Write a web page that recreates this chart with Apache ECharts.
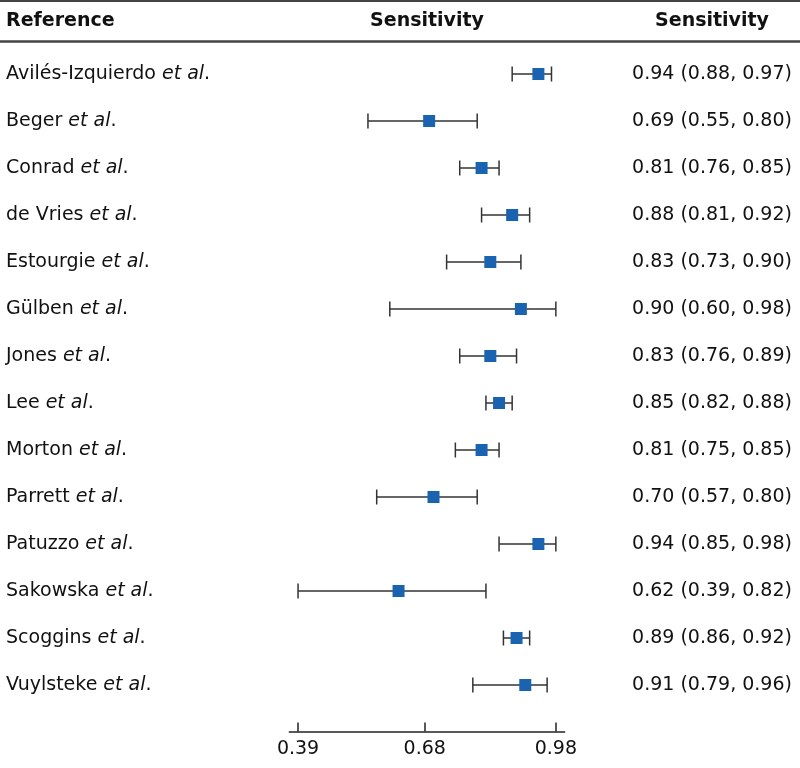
<!DOCTYPE html>
<html>
<head>
<meta charset="utf-8">
<script src="https://cdn.jsdelivr.net/npm/echarts@6/dist/echarts.min.js"></script>
<style>html,body{margin:0;padding:0;background:#fff}#c{width:800px;height:768px}</style>
</head>
<body>
<div id="c"></div>
<script>
const authors = ['Avilés-Izquierdo','Beger','Conrad','de Vries','Estourgie','Gülben','Jones','Lee','Morton','Parrett','Patuzzo','Sakowska','Scoggins','Vuylsteke'];
const sensitivity = [0.94,0.69,0.81,0.88,0.83,0.90,0.83,0.85,0.81,0.70,0.94,0.62,0.89,0.91];
const ciLower = [0.88,0.55,0.76,0.81,0.73,0.60,0.76,0.82,0.75,0.57,0.85,0.39,0.86,0.79];
const ciUpper = [0.97,0.80,0.85,0.92,0.90,0.98,0.89,0.88,0.85,0.80,0.98,0.82,0.92,0.96];
const xTicks = [0.39, 0.68, 0.98];
const headers = ['Reference', 'Sensitivity', 'Sensitivity'];

const FONT = 'DejaVu Sans';
const chart = echarts.init(document.getElementById('c'), null, {renderer: 'canvas'});
const idx = authors.map((_, i) => i);
const rightText = authors.map((_, i) => sensitivity[i].toFixed(2) + ' (' + ciLower[i].toFixed(2) + ', ' + ciUpper[i].toFixed(2) + ')');

const gridLeft = 289.3, gridRight = 235.4;
chart.setOption({
  animation: false,
  backgroundColor: '#fff',
  grid: {left: gridLeft, right: gridRight, top: 50.5, bottom: 59.5, containLabel: false},
  xAxis: {
    type: 'value', min: 0.37, max: 1.0, offset: 23,
    splitLine: {show: false},
    axisLine: {show: true, lineStyle: {color: '#222', width: 1.5}},
    axisTick: {show: true, inside: true, length: 9, customValues: xTicks, lineStyle: {color: '#222', width: 1.5}},
    axisLabel: {customValues: xTicks, formatter: v => v.toFixed(2), fontFamily: FONT, fontSize: 19, color: '#111', margin: 8}
  },
  yAxis: [{
    type: 'category', data: authors, inverse: true, position: 'left',
    axisLine: {show: false}, axisTick: {show: false}, splitLine: {show: false},
    axisLabel: {
      align: 'left', margin: gridLeft - 6, interval: 0,
      formatter: v => '{n|' + v + ' }{i|et al}{n|.}',
      rich: {
        n: {fontFamily: FONT, fontSize: 19, color: '#111'},
        i: {fontFamily: FONT, fontSize: 19, color: '#111', fontStyle: 'italic'}
      }
    }
  }, {
    type: 'category', data: authors, inverse: true, position: 'right',
    axisLine: {show: false}, axisTick: {show: false}, splitLine: {show: false},
    axisLabel: {
      align: 'center', margin: 712 - (800 - gridRight), interval: 0,
      formatter: (v, i) => rightText[i],
      fontFamily: FONT, fontSize: 19, color: '#111'
    }
  }],
  graphic: [
    {type: 'line', shape: {x1: 0, y1: 1, x2: 800, y2: 1}, style: {stroke: '#444', lineWidth: 2}},
    {type: 'line', shape: {x1: 0, y1: 41.5, x2: 800, y2: 41.5}, style: {stroke: '#444', lineWidth: 2.5}},
    {type: 'text', x: 6, y: 21, style: {text: headers[0], font: 'bold 19px "DejaVu Sans"', fill: '#111', align: 'left', verticalAlign: 'middle'}},
    {type: 'text', x: 427, y: 21, style: {text: headers[1], font: 'bold 19px "DejaVu Sans"', fill: '#111', align: 'center', verticalAlign: 'middle'}},
    {type: 'text', x: 712, y: 21, style: {text: headers[2], font: 'bold 19px "DejaVu Sans"', fill: '#111', align: 'center', verticalAlign: 'middle'}}
  ],
  series: [{
    type: 'custom',
    data: idx.map(i => [ciLower[i], ciUpper[i], i]),
    encode: {x: [0, 1], y: 2},
    renderItem: function (params, api) {
      const lo = api.coord([api.value(0), api.value(2)]);
      const hi = api.coord([api.value(1), api.value(2)]);
      const h = 7.5;
      const st = {stroke: '#333', lineWidth: 1.5};
      return {type: 'group', children: [
        {type: 'line', shape: {x1: lo[0], y1: lo[1], x2: hi[0], y2: hi[1]}, style: st},
        {type: 'line', shape: {x1: lo[0], y1: lo[1] - h, x2: lo[0], y2: lo[1] + h}, style: st},
        {type: 'line', shape: {x1: hi[0], y1: hi[1] - h, x2: hi[0], y2: hi[1] + h}, style: st}
      ]};
    },
    z: 2
  }, {
    type: 'scatter',
    data: idx.map(i => [sensitivity[i], i]),
    symbol: 'rect', symbolSize: 12,
    itemStyle: {color: '#1a63b0', opacity: 1},
    z: 3
  }]
});
</script>
</body>
</html>
